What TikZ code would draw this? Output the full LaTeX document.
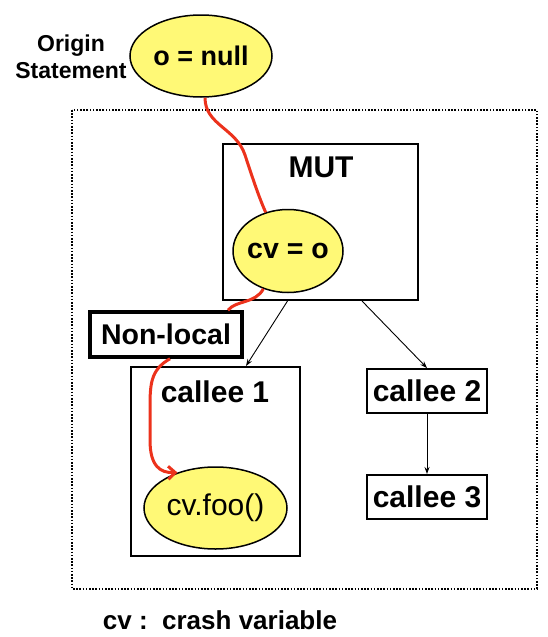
\documentclass[tikz,border=0pt]{standalone}
\usepackage{fontspec}
\setmainfont{Liberation Sans}
\usetikzlibrary{shapes.geometric,arrows.meta}
\definecolor{stmtfill}{RGB}{255,249,118}
\definecolor{flowred}{RGB}{236,50,28}
\tikzset{
  stmt/.style={ellipse, draw=black, line width=1.5pt, fill=stmtfill, inner sep=0pt},
  methodbox/.style={rectangle, draw=black, line width=2pt, inner sep=0pt},
  calllink/.style={draw=black, line width=0.9pt, -{Stealth[length=7pt,width=5pt]}},
  flow/.style={draw=flowred, line width=3pt},
  bold/.style={font=\fontsize{#1}{#1}\selectfont\bfseries},
}
\begin{document}
\begin{tikzpicture}[x=1pt, y=-1pt]
\useasboundingbox (0,0) rectangle (547,637);

% scope of the analysed code
\draw[line width=2pt, dash pattern=on 1.6pt off 1.6pt] (72,110) rectangle (537,589);

% origin statement
\node[stmt, minimum width=142pt, minimum height=82pt] (onull) at (201,56) {};
\node[bold=27] at (onull.center) {o = null};
\node[font=\fontsize{23}{27}\selectfont\bfseries, align=center] (origin) at (71,57) {Origin\\Statement};

% method under test
\node[methodbox, minimum width=195pt, minimum height=156pt] (mut) at (320.5,222) {};
\node[bold=30] (mutlabel) at (321,167) {MUT};
\node[stmt, minimum width=110pt, minimum height=83pt] (cvo) at (288,251) {};
\node[bold=28.5] at (cvo.center) {cv = o};

% non-local marker
\node[rectangle, draw=black, line width=3.5pt, minimum width=152pt, minimum height=45pt, inner sep=0pt, fill=white] (nonlocal) at (166,334.5) {};
\node[bold=28.5] at (nonlocal.center) {Non-local};

% callees
\node[methodbox, minimum width=169pt, minimum height=189pt] (callee1) at (215.5,461.5) {};
\node[bold=30] (c1label) at (215,392) {callee 1};
\node[stmt, minimum width=143pt, minimum height=82pt] (cvfoo) at (215.5,508) {};
\node[font=\fontsize{30}{32}\selectfont] at (cvfoo.center) {cv.foo()};

\node[methodbox, minimum width=120pt, minimum height=44pt] (callee2) at (427,391) {};
\node[bold=30] at (callee2.center) {callee 2};
\node[methodbox, minimum width=120pt, minimum height=44pt] (callee3) at (427,497) {};
\node[bold=30] at (callee3.center) {callee 3};

% call edges
\draw[calllink] ([xshift=-33pt]mut.south) -- ([xshift=30.5pt]callee1.north);
\draw[calllink] ([xshift=41.5pt]mut.south) -- (callee2.north);
\draw[calllink] (callee2.south) -- (callee3.north);

% crash variable flow
\draw[flow] ([xshift=4pt]onull.south) .. controls (205,125) and (236,128) .. (245,155)
  .. controls (252,176) and (258,195) .. (cvo.120);
\draw[flow] (cvo.237) .. controls (255,304) and (236,300) .. ([xshift=62pt]nonlocal.north);
\draw[flow, -{Straight Barb[length=7pt,width=13pt,line width=3pt]}] ([xshift=4pt]nonlocal.south)
  .. controls (150,370) and (150,385) .. (150,410) -- (150,440)
  .. controls (150,466) and (160,473) .. (cvfoo.137);

% legend
\node[font=\fontsize{26}{30}\selectfont\bfseries] (legend) at (220,620) {cv :\ \ crash variable};
\end{tikzpicture}
\end{document}
